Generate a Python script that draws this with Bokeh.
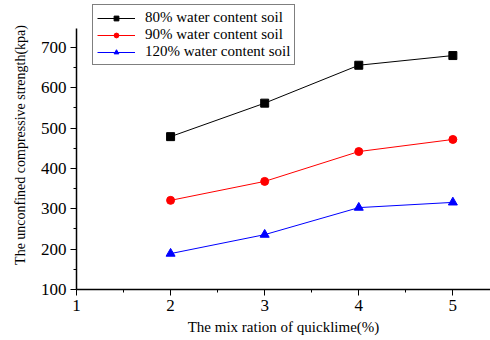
from bokeh.plotting import figure
from bokeh.models import Range1d, Legend, LegendItem, FixedTicker
from bokeh.embed import file_html
from bokeh.resources import INLINE

x = [2, 3, 4, 5]
s80 = [479, 562, 656, 680]
s90 = [321, 368, 442, 472]
s120 = [189, 236, 303, 316]
names = ["80% water content soil", "90% water content soil", "120% water content soil"]
xticks = [1, 2, 3, 4, 5]
yticks = [100, 200, 300, 400, 500, 600, 700]

FONT = "Liberation Serif, serif"

p = figure(width=490, height=340, output_backend="svg", toolbar_location=None,
           x_range=Range1d(1, 5.40), y_range=Range1d(100, 816.5),
           min_border_left=76, min_border_right=0, min_border_top=0, min_border_bottom=51)
p.outline_line_color = None
p.grid.grid_line_color = None

r1l = p.line(x, s80, color="black", line_width=1)
r1m = p.scatter(x, s80, marker="square", size=8, color="black")
r2l = p.line(x, s90, color="red", line_width=1)
r2m = p.scatter(x, s90, marker="circle", size=8, color="red")
r3l = p.line(x, s120, color="blue", line_width=1)
r3m = p.scatter(x, s120, marker="triangle", size=9, color="blue")

for ax in (p.xaxis, p.yaxis):
    ax.axis_line_width = 1.5
    ax.axis_line_color = "black"
    ax.major_tick_line_color = "black"
    ax.minor_tick_line_color = "black"
    ax.major_tick_out = 6
    ax.major_tick_in = 0
    ax.minor_tick_out = 3
    ax.minor_tick_in = 0
    ax.major_label_text_font = FONT
    ax.major_label_text_font_size = "17px"
    ax.major_label_text_color = "black"
    ax.axis_label_text_font = FONT
    ax.axis_label_text_font_style = "normal"
    ax.axis_label_text_color = "black"

p.yaxis.bounds = (100, 748)
p.xaxis.ticker = FixedTicker(ticks=xticks, minor_ticks=[1.5, 2.5, 3.5, 4.5])
p.yaxis.ticker = FixedTicker(ticks=yticks, minor_ticks=[150, 250, 350, 450, 550, 650])
p.xaxis.axis_label = "The mix ration of quicklime(%)"
p.yaxis.axis_label = "The unconfined compressive strength(kpa)"
p.xaxis.axis_label_text_font_size = "15px"
p.yaxis.axis_label_text_font_size = "14px"
p.xaxis.major_label_standoff = 4
p.yaxis.major_label_standoff = 4
p.xaxis.axis_label_standoff = 5
p.yaxis.axis_label_standoff = 10

legend = Legend(items=[
    LegendItem(label=names[0], renderers=[r1l, r1m]),
    LegendItem(label=names[1], renderers=[r2l, r2m]),
    LegendItem(label=names[2], renderers=[r3l, r3m]),
], location=(16, 224))
legend.label_text_font = FONT
legend.label_text_font_size = "15px"
legend.label_text_color = "black"
legend.border_line_color = "black"
legend.border_line_width = 1
legend.background_fill_alpha = 1
legend.glyph_width = 38
legend.glyph_height = 12
legend.label_height = 12
legend.spacing = 0
legend.padding = 4
legend.margin = 0
legend.label_standoff = 10
p.add_layout(legend, "center")

open("out.html", "w").write(file_html(p, INLINE))
